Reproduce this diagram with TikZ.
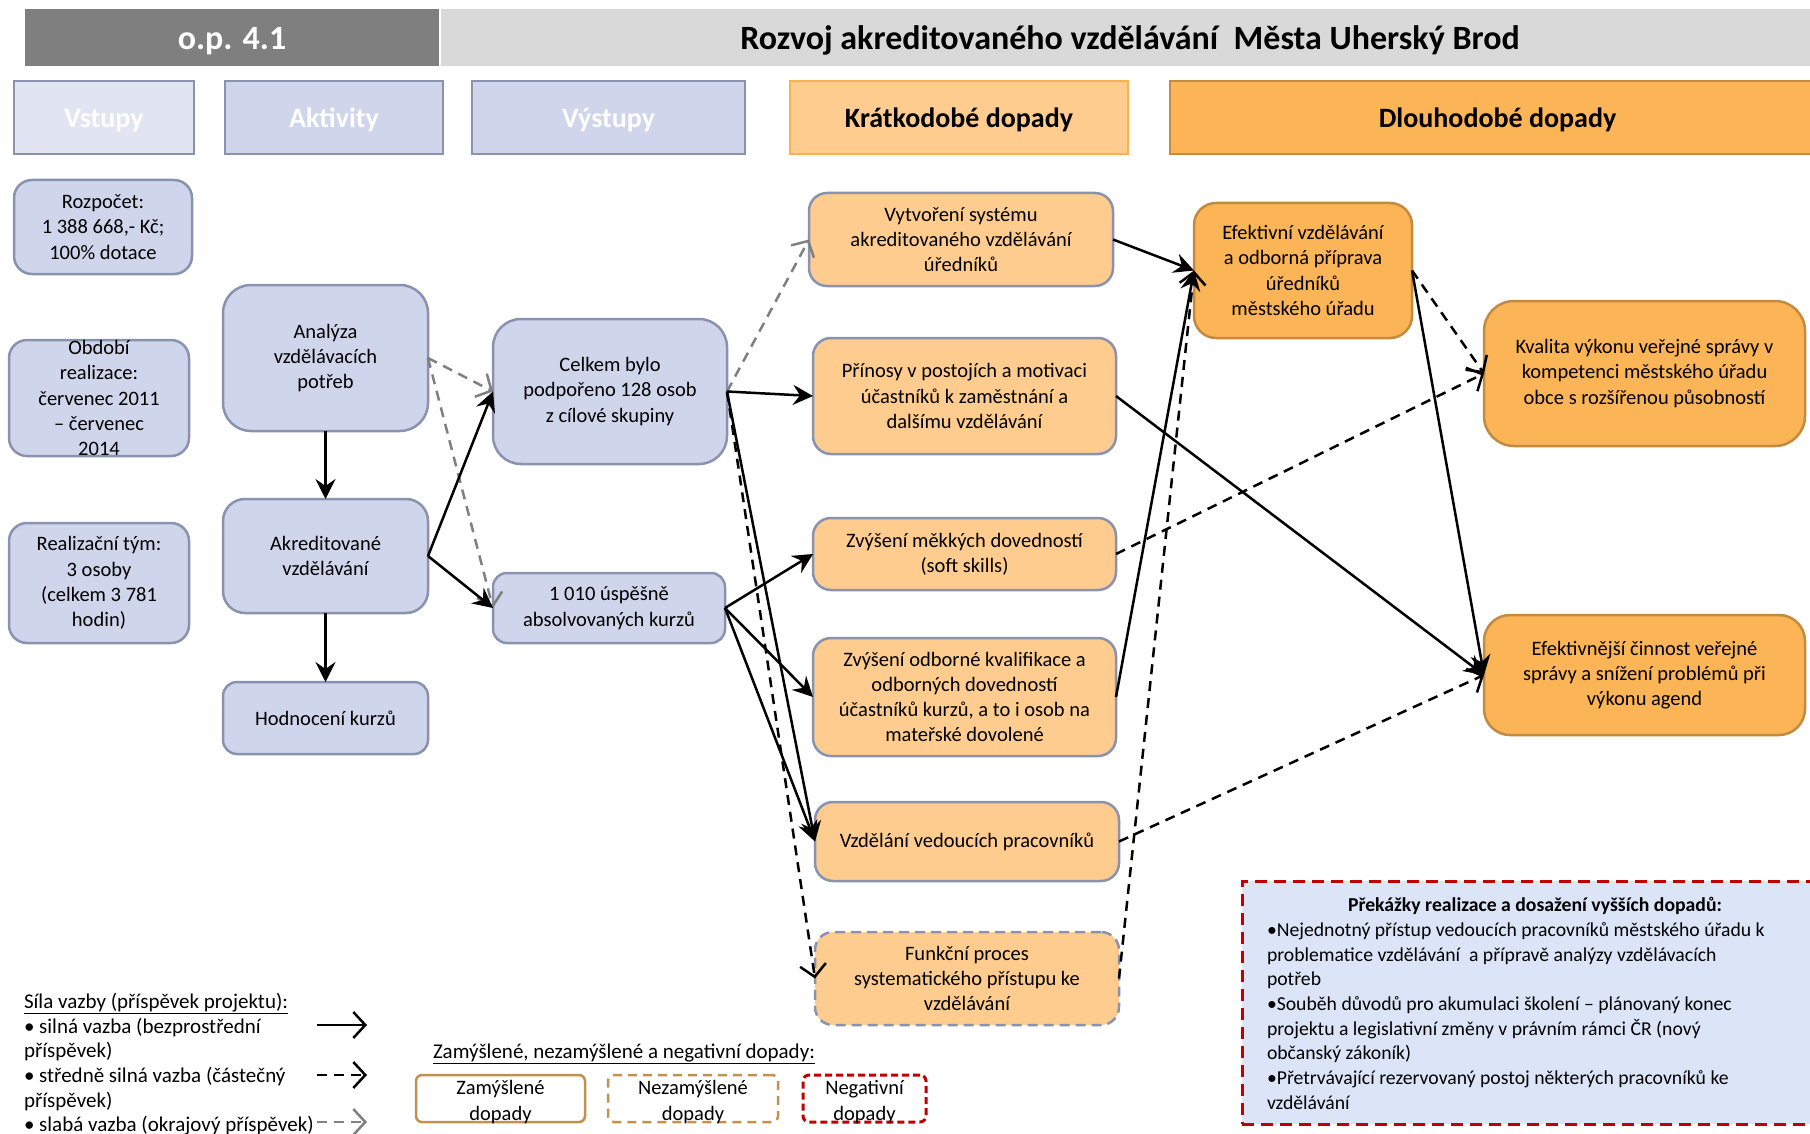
\documentclass[tikz,border=0pt]{standalone}
\usepackage{fontspec}
\setmainfont{Carlito}
\usetikzlibrary{arrows.meta}
\definecolor{opgrey}{HTML}{7F7F7F}
\definecolor{titlegrey}{HTML}{D9D9D9}
\definecolor{vstf}{HTML}{E1E5F2}
\definecolor{bluf}{HTML}{CFD5EA}
\definecolor{blub}{HTML}{8993B0}
\definecolor{shortf}{HTML}{FFCC8F}
\definecolor{shortb}{HTML}{F8B250}
\definecolor{longf}{HTML}{FBB456}
\definecolor{longb}{HTML}{C38A40}
\definecolor{prekf}{HTML}{DBE5F7}
\definecolor{negred}{HTML}{C00000}
\definecolor{legbrown}{HTML}{C0914F}
\definecolor{weakgrey}{HTML}{808080}
\newcommand\nfs{\fontsize{20.5}{25.3}\selectfont}
\newcommand\hfs{\fontsize{28}{32}\selectfont}
\newcommand\tfs{\fontsize{34}{38}\selectfont}
\newcommand\lfs{\fontsize{21}{24.7}\selectfont}
\newcommand\pfs{\fontsize{19.7}{24.7}\selectfont}
\begin{document}
\begin{tikzpicture}[x=1pt,y=-1pt,
  every node/.style={font=\nfs, align=center, inner sep=0pt, outer sep=0pt},
  hdr/.style={draw=blub, line width=2.5pt, minimum height=73pt, font=\hfs\bfseries, text=white, text height=24pt, text depth=3.5pt},
  titlebar/.style={minimum height=57pt, font=\tfs\bfseries, text height=31pt, text depth=6pt},
  blubox/.style={draw=blub, fill=bluf, line width=2.5pt, rounded corners=18pt},
  shortbox/.style={draw=blub, fill=shortf, line width=2.5pt, rounded corners=18pt},
  longbox/.style={draw=longb, fill=longf, line width=2.5pt, rounded corners=22pt},
  strong/.style={line width=2.5pt, -{Stealth[length=20pt,width=20pt,inset=7pt]}},
  mid/.style={line width=2.5pt, dash pattern=on 10pt off 7pt, -{Straight Barb[length=12pt,width=26pt]}},
  weak/.style={mid, draw=weakgrey},
  legarrow/.style={line width=2.5pt, -{Straight Barb[length=12pt,width=26pt]}},
]
\useasboundingbox (0,0) rectangle (1810,1134);
\fill[white] (0,0) rectangle (1810,1134);

% title bar
\node[titlebar, fill=opgrey, minimum width=414pt, text=white] (op) at (232,37.5) {o.p. 4.1};
\node[titlebar, fill=titlegrey, minimum width=1378pt] (title) at (1130,37.5) {Rozvoj akreditovaného vzdělávání~ Města Uherský Brod};

% column headers
\node[hdr, fill=vstf, minimum width=180pt] (hvst) at (104,117.5) {Vstupy};
\node[hdr, fill=bluf, minimum width=218pt] (hakt) at (334,117.5) {Aktivity};
\node[hdr, fill=bluf, minimum width=273pt] (hvys) at (608.5,117.5) {Výstupy};
\node[hdr, draw=shortb, fill=shortf, minimum width=338pt, text=black] (hkrat) at (959,117.5) {Krátkodobé dopady};
\node[hdr, draw=longb, fill=longf, minimum width=655pt, text=black] (hdlouh) at (1497.5,117.5) {Dlouhodobé dopady};

% inputs
\node[blubox, minimum width=178pt, minimum height=94pt] (rozp) at (103,227) {Rozpočet:\\1 388 668,- Kč;\\100\% dotace};
\node[blubox, minimum width=180pt, minimum height=116pt] (obd) at (99,398) {};
\node (obdt) at (obd.center) {Období\\realizace:\\červenec 2011\\– červenec\\2014};
\node[blubox, minimum width=180pt, minimum height=120pt] (real) at (99,583) {Realizační tým:\\3 osoby\\(celkem 3 781\\hodin)};

% activities
\node[blubox, rounded corners=28pt, minimum width=205pt, minimum height=146pt] (anal) at (325.5,358) {Analýza\\vzdělávacích\\potřeb};
\node[blubox, rounded corners=22pt, minimum width=205pt, minimum height=114pt] (akr) at (325.5,556) {Akreditované\\vzdělávání};
\node[blubox, rounded corners=14pt, minimum width=205pt, minimum height=72pt] (hod) at (325.5,718) {Hodnocení kurzů};

% outputs
\node[blubox, rounded corners=28pt, minimum width=234pt, minimum height=145pt] (celk) at (610,391.5) {Celkem bylo\\podpořeno 128 osob\\z cílové skupiny};
\node[blubox, rounded corners=14pt, minimum width=232pt, minimum height=70pt] (kurz) at (609,608) {1 010 úspěšně\\absolvovaných kurzů};

% short-term
\node[shortbox, minimum width=304pt, minimum height=93pt] (vytv) at (961,239.5) {Vytvoření systému\\akreditovaného vzdělávání\\úředníků};
\node[shortbox, minimum width=303pt, minimum height=116pt] (prin) at (964.5,396) {Přínosy v postojích a motivaci\\účastníků k zaměstnání a\\dalšímu vzdělávání};
\node[shortbox, minimum width=303pt, minimum height=72pt] (mekk) at (964.5,554) {Zvýšení měkkých dovedností\\(soft skills)};
\node[shortbox, minimum width=303pt, minimum height=118pt] (odb) at (964.5,697) {Zvýšení odborné kvalifikace a\\odborných dovedností\\účastníků kurzů, a to i osob na\\mateřské dovolené};
\node[shortbox, minimum width=304pt, minimum height=79pt] (vedo) at (967,841.5) {Vzdělání vedoucích pracovníků};
\node[shortbox, dash pattern=on 10pt off 6pt, minimum width=304pt, minimum height=93pt] (funk) at (967,978.5) {Funkční proces\\systematického přístupu ke\\vzdělávání};

% long-term
\node[longbox, minimum width=218pt, minimum height=135pt] (efv) at (1303,270.5) {Efektivní vzdělávání\\a odborná příprava\\úředníků\\městského úřadu};
\node[longbox, rounded corners=30pt, minimum width=321pt, minimum height=145pt] (kval) at (1644.5,373.5) {Kvalita výkonu veřejné správy v\\kompetenci městského úřadu\\obce s rozšířenou působností};
\node[longbox, rounded corners=26pt, minimum width=321pt, minimum height=120pt] (efn) at (1644.5,675) {Efektivnější činnost veřejné\\správy a snížení problémů při\\výkonu agend};

% obstacles
\node[draw=negred, fill=prekf, line width=3pt, dash pattern=on 12pt off 7pt, minimum width=575pt, minimum height=243pt] (prek) at (1529.5,1002.5) {};
\node[font=\pfs\bfseries] (prekt) at (1535,906) {Překážky realizace a dosažení vyšších dopadů:};
\node[anchor=north west, align=left, font=\pfs] (prekb) at (1267,922.5) {•Nejednotný přístup vedoucích pracovníků městského úřadu k\\problematice vzdělávání~ a přípravě analýzy vzdělávacích\\potřeb\\•Souběh důvodů pro akumulaci školení – plánovaný konec\\projektu a legislativní změny v právním rámci ČR (nový\\občanský zákoník)\\•Přetrvávající rezervovaný postoj některých pracovníků ke\\vzdělávání};

% connectors
\draw[strong] (anal) -- (akr);
\draw[strong] (akr) -- (hod);
\draw[weak] (anal.east) -- (celk.west);
\draw[weak] (anal.east) -- (kurz.west);
\draw[strong] (akr.east) -- (celk.west);
\draw[strong] (akr.east) -- (kurz.west);
\draw[weak] (celk.east) -- (vytv.west);
\draw[strong] (celk.east) -- (prin.west);
\draw[strong] (celk.east) -- (vedo.west);
\draw[mid] (celk.east) -- (funk.west);
\draw[strong] (kurz.east) -- (mekk.west);
\draw[strong] (kurz.east) -- (odb.west);
\draw[strong] (kurz.east) -- (vedo.west);
\draw[strong] (vytv.east) -- (efv.west);
\draw[strong] (prin.east) -- (efn.west);
\draw[mid] (mekk.east) -- (kval.west);
\draw[strong] (odb.east) -- (efv.west);
\draw[mid] (vedo.east) -- (efn.west);
\draw[mid] (funk.east) -- (efv.west);
\draw[mid] (efv.east) -- (kval.west);
\draw[strong] (efv.east) -- (efn.west);

% legend: link strength
\node[anchor=north west, align=left, font=\lfs] (legtext) at (24,993) {\underline{Síla vazby (příspěvek projektu):}\\• silná vazba (bezprostřední\\příspěvek)\\• středně silná vazba (částečný\\příspěvek)\\• slabá vazba (okrajový příspěvek)};
\coordinate (l1a) at (317,1025);
\coordinate (l1b) at (367,1025);
\coordinate (l2a) at (317,1075);
\coordinate (l2b) at (367,1075);
\coordinate (l3a) at (317,1122);
\coordinate (l3b) at (367,1122);
\draw[legarrow] (l1a) -- (l1b);
\draw[legarrow, dash pattern=on 10pt off 7pt] (l2a) -- (l2b);
\draw[legarrow, dash pattern=on 10pt off 7pt, draw=weakgrey] (l3a) -- (l3b);

% legend: impacts
\node[anchor=west, font=\lfs] (legimp) at (433,1054) {\underline{Zamýšlené, nezamýšlené a negativní dopady:}};
\node[draw=legbrown, line width=2.5pt, rounded corners=6pt, minimum width=169pt, minimum height=47pt] (lzam) at (500.5,1098.5) {};
\node (lzamt) at ([yshift=-3.5pt]lzam.center) {Zamýšlené\\dopady};
\node[draw=legbrown, line width=2.5pt, dash pattern=on 9pt off 6pt, rounded corners=6pt, minimum width=170pt, minimum height=47pt] (lnez) at (693,1098.5) {};
\node (lnezt) at ([yshift=-3.5pt]lnez.center) {Nezamýšlené\\dopady};
\node[draw=negred, line width=3pt, dash pattern=on 7pt off 4pt, rounded corners=6pt, minimum width=123pt, minimum height=47pt] (lneg) at (864.5,1098.5) {};
\node (lnegt) at ([yshift=-3.5pt]lneg.center) {Negativní\\dopady};
\end{tikzpicture}
\end{document}
